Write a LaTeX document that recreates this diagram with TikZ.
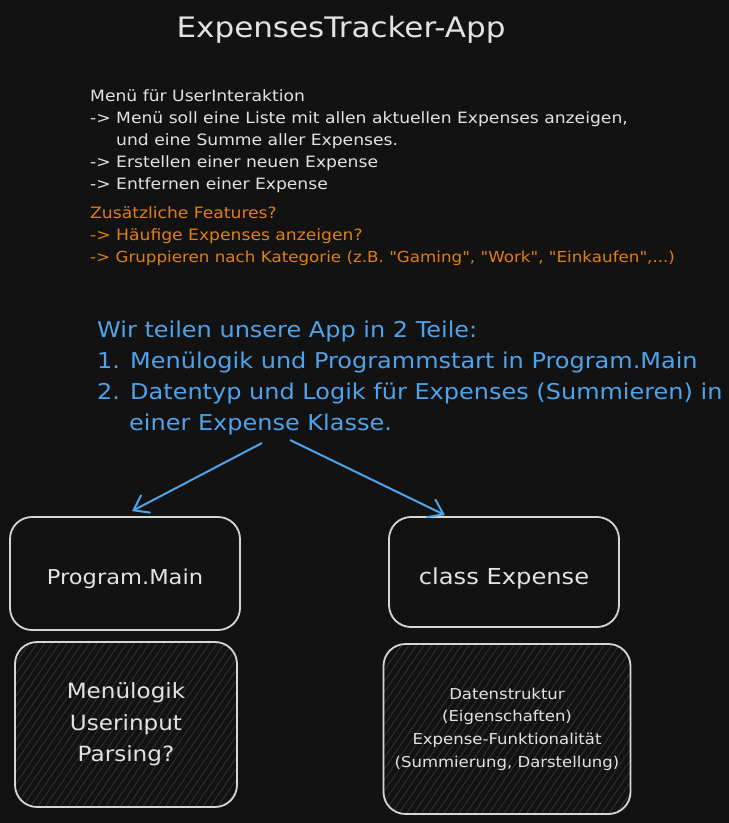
\documentclass[tikz,border=0pt]{standalone}
\usepackage{fontspec}
\setmainfont{DejaVu Sans}[FakeStretch=1.1,Ligatures=TeXOff]
\usetikzlibrary{arrows.meta,calc}
\definecolor{bg}{HTML}{121212}
\definecolor{fg}{HTML}{E3E3E3}
\definecolor{orng}{HTML}{E07F14}
\definecolor{blu}{HTML}{4FA3EA}
\definecolor{boxline}{HTML}{D6D6D6}
\definecolor{hatchc}{HTML}{2E2E2E}
\begin{document}
\begin{tikzpicture}[x=1pt,y=-1pt,
  wtxt/.style={anchor=base west, inner sep=0pt, text=fg, font=\fontsize{15.6}{18}\selectfont},
  otxt/.style={wtxt, text=orng},
  btxt/.style={anchor=base west, inner sep=0pt, text=blu, font=\fontsize{21.8}{26}\selectfont},
  box/.style={draw=boxline, line width=1.8pt, rounded corners=22pt, inner sep=0pt, text=fg, align=center},
  hatched/.style={box, path picture={
      \foreach \k in {-25,...,40}{
        \draw[hatchc, line width=1pt]
          ($(path picture bounding box.south west)+(\k*7.5,0)$) -- ++(130,-190);}}},
  conn/.style={draw=blu, line width=2pt, -{Straight Barb[length=14pt,width=20pt,line width=2pt]}}
]
\fill[bg] (0,0) rectangle (729,823);
\useasboundingbox (0,0) rectangle (729,823);

\node[anchor=base, inner sep=0pt, text=fg, font=\fontsize{28.2}{34}\selectfont] (title) at (341,37) {ExpensesTracker-App};

\node[wtxt] (w1) at (90,101) {Menü für UserInteraktion};
\node[wtxt] (w2) at (90,123) {-> Menü soll eine Liste mit allen aktuellen Expenses anzeigen,};
\node[wtxt] (w3) at (116,145) {und eine Summe aller Expenses.};
\node[wtxt] (w4) at (90,167) {-> Erstellen einer neuen Expense};
\node[wtxt] (w5) at (90,189) {-> Entfernen einer Expense};

\node[otxt] (o1) at (90,218) {Zusätzliche Features?};
\node[otxt] (o2) at (90,240) {-> Häufige Expenses anzeigen?};
\node[otxt, font=\fontsize{15.2}{18}\selectfont] (o3) at (90,262) {-> Gruppieren nach Kategorie (z.B. "Gaming", "Work", "Einkaufen",...)};

\node[btxt] (b1) at (97,337) {Wir teilen unsere App in 2 Teile:};
\node[btxt] (b2) at (97,368) {1. Menülogik und Programmstart in Program.Main};
\node[btxt] (b3) at (97,399) {2. Datentyp und Logik für Expenses (Summieren) in};
\node[btxt] (b4) at (129,430) {einer Expense Klasse.};

\node[box, minimum width=230pt, minimum height=113pt, font=\fontsize{20.5}{26}\selectfont] (pm) at (125,573.5) {\raisebox{-5pt}[\height][\depth]{Program.Main}};
\node[box, minimum width=230pt, minimum height=110pt, font=\fontsize{22}{26}\selectfont] (ce) at (504,572) {\raisebox{-6pt}[\height][\depth]{class Expense}};

\node[hatched, minimum width=222pt, minimum height=165pt, font=\fontsize{21}{31.5}\selectfont] (pmd) at (126,724.5) {Menülogik\\Userinput\\Parsing?};
\node[hatched, minimum width=247pt, minimum height=170pt, font=\fontsize{15}{22.7}\selectfont] (ced) at (507,729) {Datenstruktur\\(Eigenschaften)\\Expense-Funktionalität\\(Summierung, Darstellung)};

\coordinate (s1) at (262,443);
\coordinate (s2) at (290,440);
\draw[conn] (s1) -- ($(pm.north)+(7,-5)$);
\draw[conn] (s2) -- ($(ce.north)+(-59,-1)$);
\end{tikzpicture}
\end{document}
